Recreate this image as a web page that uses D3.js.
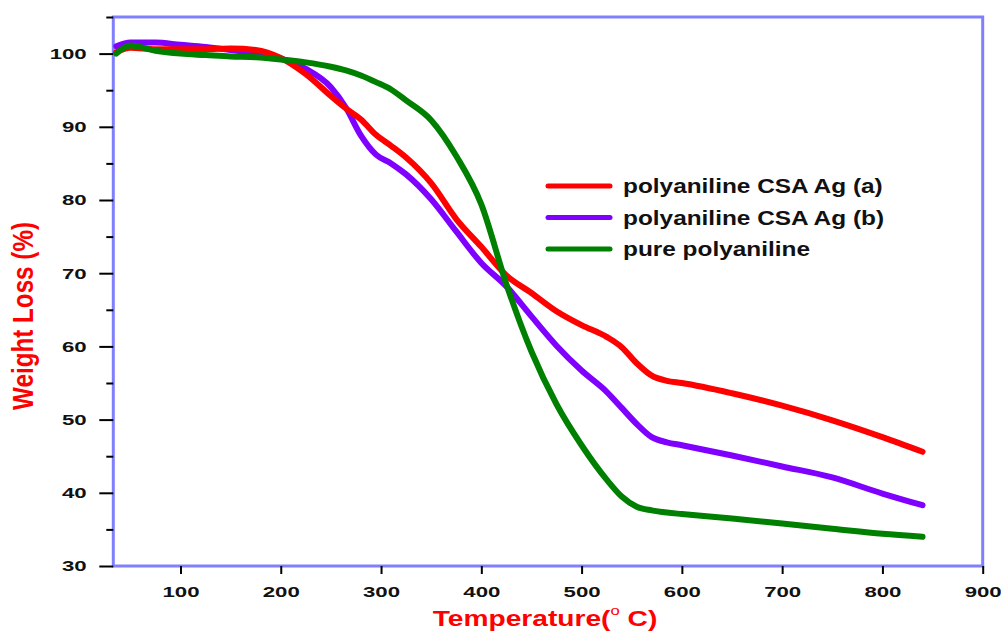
<!DOCTYPE html>
<html>
<head>
<meta charset="utf-8">
<script src="https://cdn.jsdelivr.net/npm/d3@7"></script>
<style>
  body { margin: 0; background: #fff; }
  text { font-family: "Liberation Sans", Arial, sans-serif; }
</style>
</head>
<body>
<svg id="chart" width="1003" height="632"></svg>
<script>
// temperatures (°C), shared by the three curves
const temps = [36, 50, 75, 100, 125, 150, 175, 200, 225, 250, 265, 280, 295, 310, 325,
  350, 375, 400, 425, 450, 475, 500, 525, 540, 555, 570, 585, 600, 650, 700, 750, 800, 840];
// weight (%) for each curve
const weightA = [100.2, 100.8, 100.6, 100.6, 100.6, 100.7, 100.5, 99.4, 97.2, 94.2, 92.5, 91.0, 88.9, 87.4, 85.8,
  82.3, 77.4, 73.6, 69.7, 67.3, 64.8, 62.9, 61.3, 59.9, 57.7, 56.0, 55.3, 55.0, 53.6, 51.9, 49.9, 47.6, 45.6];
const weightB = [101.0, 101.5, 101.5, 101.2, 100.9, 100.5, 100.0, 99.3, 97.9, 95.4, 92.6, 88.8, 86.2, 85.0, 83.5,
  80.1, 75.7, 71.4, 68.2, 64.1, 60.1, 56.7, 53.8, 51.6, 49.4, 47.6, 46.9, 46.5, 45.1, 43.6, 42.1, 39.9, 38.3];
const weightPure = [100.0, 101.1, 100.4, 100.0, 99.8, 99.6, 99.5, 99.2, 98.8, 98.2, 97.7, 97.0, 96.1, 95.1, 93.6,
  90.9, 86.0, 79.4, 68.5, 59.3, 52.1, 46.5, 41.8, 39.5, 38.1, 37.6, 37.3, 37.1, 36.5, 35.8, 35.1, 34.4, 34.0];

const seriesNames = ["polyaniline CSA Ag (a)", "polyaniline CSA Ag (b)", "pure polyaniline"];
const seriesColors = ["#ff0000", "#8000ff", "#008000"];

const xTicks = [100, 200, 300, 400, 500, 600, 700, 800, 900];
const yTicks = [30, 40, 50, 60, 70, 80, 90, 100];
const yMinorTicks = [35, 45, 55, 65, 75, 85, 95, 105];

const svg = d3.select("#chart");

const x = d3.scaleLinear().domain([33, 900]).range([113.3, 982.7]);
const y = d3.scaleLinear().domain([30, 105]).range([566, 17]);

// frame
svg.append("rect")
  .attr("x", x(33)).attr("y", y(105))
  .attr("width", x(900) - x(33)).attr("height", y(30) - y(105))
  .attr("fill", "none")
  .attr("stroke", "#8080ff")
  .attr("stroke-width", 3);

// x axis
const gx = svg.append("g")
  .attr("transform", "translate(0," + y(30) + ")")
  .call(d3.axisBottom(x).tickValues(xTicks).tickSize(8).tickSizeOuter(0));
gx.select(".domain").remove();
gx.selectAll(".tick line").attr("stroke", "#000").attr("stroke-width", 2);
gx.selectAll(".tick text")
  .attr("y", 20)
  .attr("transform", "scale(1.48,1)")
  .style("font-size", "15px").style("font-weight", "bold").attr("fill", "#111");

// y axis, major
const gy = svg.append("g")
  .attr("transform", "translate(" + x(33) + ",0)")
  .call(d3.axisLeft(y).tickValues(yTicks).tickSize(14).tickSizeOuter(0));
gy.select(".domain").remove();
gy.selectAll(".tick line").attr("stroke", "#000").attr("stroke-width", 2);
gy.selectAll(".tick text")
  .attr("x", -18)
  .attr("transform", "scale(1.48,1)")
  .style("font-size", "15px").style("font-weight", "bold").attr("fill", "#111");

// y axis, minor
const gyMinor = svg.append("g")
  .attr("transform", "translate(" + x(33) + ",0)")
  .call(d3.axisLeft(y).tickValues(yMinorTicks).tickSize(7).tickSizeOuter(0).tickFormat(""));
gyMinor.select(".domain").remove();
gyMinor.selectAll(".tick line").attr("stroke", "#000").attr("stroke-width", 2);

// curves (purple under red, green on top)
const line = d3.line()
  .x((d, i) => x(temps[i]))
  .y(d => y(d))
  .curve(d3.curveMonotoneX);

const curves = [weightB, weightA, weightPure];
const curveColors = [seriesColors[1], seriesColors[0], seriesColors[2]];
svg.selectAll(".curve")
  .data(curves)
  .enter()
  .append("path")
  .attr("class", "curve")
  .attr("d", line)
  .attr("fill", "none")
  .attr("stroke", (d, i) => curveColors[i])
  .attr("stroke-width", 6)
  .attr("stroke-linecap", "round")
  .attr("stroke-linejoin", "round");

// legend
const legendY = d3.scaleLinear().domain([0, 2]).range([186, 249]);
const legend = svg.selectAll(".legend")
  .data(seriesNames)
  .enter()
  .append("g")
  .attr("class", "legend")
  .attr("transform", (d, i) => "translate(0," + legendY(i) + ")");
legend.append("line")
  .attr("x1", 548).attr("x2", 610)
  .attr("stroke", (d, i) => seriesColors[i])
  .attr("stroke-width", 5)
  .attr("stroke-linecap", "round");
legend.append("text")
  .attr("transform", "translate(623,7) scale(1.22,1)")
  .style("font-size", "20px").style("font-weight", "bold")
  .attr("fill", "#111")
  .text(d => d);

// axis titles
const xTitle = svg.append("text")
  .attr("transform", "translate(545,626) scale(1.28,1)")
  .attr("text-anchor", "middle")
  .attr("fill", "#ff0000")
  .style("font-size", "22px").style("font-weight", "bold");
xTitle.append("tspan").text("Temperature(");
xTitle.append("tspan").attr("dy", -11).style("font-size", "13px").style("font-weight", "normal").text("o");
xTitle.append("tspan").attr("dy", 11).text(" C)");

svg.append("text")
  .attr("transform", "translate(33,316) rotate(-90) scale(1,1.15)")
  .attr("text-anchor", "middle")
  .attr("textLength", 188)
  .attr("lengthAdjust", "spacingAndGlyphs")
  .attr("fill", "#ff0000")
  .style("font-size", "26px").style("font-weight", "bold")
  .text("Weight Loss (%)");
</script>
</body>
</html>
